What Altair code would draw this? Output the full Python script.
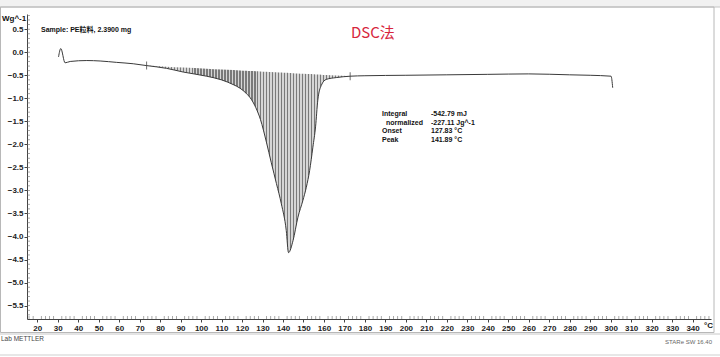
import altair as alt
import pandas as pd

# ---- data ----
temp = [30.4, 31.5, 33.6, 36.1, 44.2, 50.7, 58.8, 66.9, 73.4, 83.2, 91.3, 102.7, 110.0,
        115.6, 119.0, 122.0, 124.5, 126.7, 129.0, 131.9, 134.3, 136.8, 139.2, 141.6,
        142.7, 144.9, 147.3, 149.7, 151.4, 153.0, 154.6, 155.9, 157.0, 158.7, 161.1,
        166.0, 172.8, 180, 200, 220, 240, 260, 280, 290, 300.2, 301.0]
heat = [-0.10, 0.08, -0.23, -0.20, -0.18, -0.19, -0.22, -0.25, -0.29, -0.35, -0.43, -0.52,
        -0.60, -0.70, -0.78, -0.89, -1.02, -1.20, -1.46, -1.95, -2.40, -2.85, -3.29,
        -3.87, -4.35, -4.09, -3.58, -3.22, -2.93, -2.57, -2.06, -1.62, -1.04, -0.72,
        -0.59, -0.55, -0.52, -0.51, -0.50, -0.49, -0.48, -0.47, -0.49, -0.50, -0.52,
        -0.77]
limit_t = [73.4, 172.8]
limit_v = [-0.29, -0.52]
x_ticks = list(range(20, 341, 10))
y_ticks = [0.5, 0.0, -0.5, -1.0, -1.5, -2.0, -2.5, -3.0, -3.5, -4.0, -4.5, -5.0, -5.5]
x_minor = [v for v in range(16, 349, 2) if v % 10 != 0]
y_minor = [round(-5.7 + 0.1 * i, 1) for i in range(66)]
ann_labels = ["Integral", "normalized", "Onset", "Peak"]
ann_values = ["-542.79 mJ", "-227.11 Jg^-1", "127.83 \u00b0C", "141.89 \u00b0C"]
sample_text = "Sample: PE粒料, 2.3900 mg"

df = pd.DataFrame({"t": temp, "v": heat})
lim = pd.DataFrame({"t": limit_t, "v": limit_v})

W, H = 684, 305
FONT = "Liberation Sans, Noto Sans CJK SC"
XS = alt.Scale(domain=[15, 349], nice=False, zero=False)
YS = alt.Scale(domain=[-5.79, 0.83], nice=False, zero=False)

# hatch as striped gradient
n = 68
stops = []
for i in range(n):
    a, b, c = i / n, (i + 0.38) / n, (i + 1) / n
    stops += [alt.GradientStop(offset=a, color="#7a7a7a"),
              alt.GradientStop(offset=b, color="#7a7a7a"),
              alt.GradientStop(offset=b, color="#d6d6d6"),
              alt.GradientStop(offset=c, color="#d6d6d6")]
hatch = alt.LinearGradient(gradient="linear", stops=stops, x1=0, x2=1, y1=0, y2=0)

base = alt.Chart(df)

common = dict(title=None, labelFont=FONT, labelFontWeight="bold", labelFontSize=8,
              labelColor="#222", tickSize=3, tickColor="#444", domainColor="#444",
              grid=False, labelFlush=False, labelOverlap=False)
x_axis = alt.Axis(values=x_ticks, labelPadding=2, orient="bottom", **common)
y_axis = alt.Axis(values=y_ticks, format=".1f", labelPadding=1, orient="left", **common)


def X(field):
    return alt.X(field, scale=XS, axis=x_axis)


def Y(field):
    return alt.Y(field, scale=YS, axis=y_axis)


area = base.transform_filter(
    (alt.datum.t >= limit_t[0]) & (alt.datum.t <= limit_t[1])
).transform_calculate(
    b=f"{limit_v[0]} + (datum.t - {limit_t[0]}) * ({limit_v[1] - limit_v[0]}) / ({limit_t[1] - limit_t[0]})"
).mark_area(color=hatch, opacity=1, interpolate="monotone").encode(
    x=X("t:Q"), y=Y("v:Q"), y2="b:Q",
)

line = base.mark_line(color="#3a3a3a", strokeWidth=1, interpolate="monotone").encode(
    x=X("t:Q"), y=Y("v:Q")
)

marks = alt.Chart(lim).mark_tick(orient="vertical", size=8, thickness=1, color="#333").encode(
    x=X("t:Q"), y=Y("v:Q")
)

# minor ticks along the axes, placed through the scales
minor_x = alt.Chart(pd.DataFrame({"t": x_minor})).mark_tick(
    orient="vertical", size=3, thickness=0.8, color="#666").encode(
    x=X("t:Q"), y=alt.value(H - 1.5))
minor_y = alt.Chart(pd.DataFrame({"v": y_minor})).mark_tick(
    orient="horizontal", size=3, thickness=0.8, color="#666").encode(
    y=Y("v:Q"), x=alt.value(1.5))

one = pd.DataFrame({"a": [0]})

def txt(text, x, y, size=8, weight="normal", color="#111", align="left",
        baseline="middle", font=FONT, **kw):
    return alt.Chart(one).mark_text(text=text, fontSize=size, fontWeight=weight,
                                    color=color, align=align, baseline=baseline,
                                    font=font, **kw).encode(
        x=alt.value(x), y=alt.value(y))

def rect(x, x2, y, y2, fill="none", stroke=None, sw=1):
    kw = {}
    if stroke:
        kw = {"stroke": stroke, "strokeWidth": sw}
    return alt.Chart(one).mark_rect(fill=fill, **kw).encode(
        x=alt.value(x), x2=alt.value(x2), y=alt.value(y), y2=alt.value(y2))

def hrule(x, x2, y, color="#bbb", sw=1):
    return alt.Chart(one).mark_rule(color=color, strokeWidth=sw).encode(
        x=alt.value(x), x2=alt.value(x2), y=alt.value(y))

frame = [
    rect(-27, 693, -14, -7, fill="#f1f1f1"),
    hrule(-27, 693, -7, "#c4c4c4", 1),
    rect(-26.5, 687, -7, 318.5, fill="transparent", stroke="#b8b8b8", sw=1),
    hrule(-27, 693, 320, "#c8c8c8", 1),
    hrule(-27, 693, 341, "#cfcfcf", 1),
]

ann = []
for i, (lab, val) in enumerate(zip(ann_labels, ann_values)):
    y = 100 + i * 8.5
    ann.append(txt(lab, 359 if lab == "normalized" else 355, y, size=7, weight="bold"))
    ann.append(txt(val, 404, y, size=7, weight="bold"))

texts = [
    txt("Wg^-1", -25, 4.5, size=8, weight="bold"),
    txt(sample_text, 14, 15.5, size=7, weight="bold"),
    txt("DSC法", 324, 19, size=15, color="#d7263d", font="Noto Sans CJK SC"),
    txt("\u00b0C", 686, 312, size=8, weight="bold", align="right"),
    txt("Lab METTLER", -26, 325, size=6.5, color="#444"),
    txt("STARe SW 16.40", 685, 328, size=6, color="#666", align="right"),
] + ann

chart = alt.layer(*frame, area, minor_x, minor_y, line, marks, *texts).properties(
    width=W, height=H,
    autosize=alt.AutoSizeParams(type="none"),
    padding={"left": 27, "top": 14, "right": 9, "bottom": 38},
    background="white",
).configure_view(stroke=None)

chart.save("out.html", embed_options={"renderer": "svg", "actions": False})
